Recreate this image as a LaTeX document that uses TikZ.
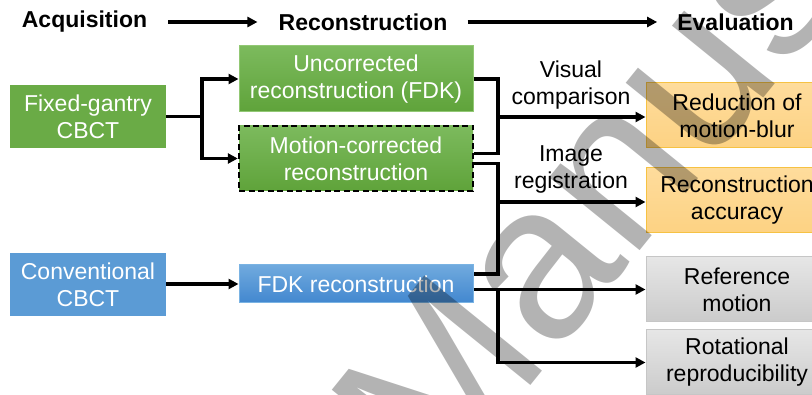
\documentclass[tikz,border=0pt]{standalone}
\usepackage{fontspec}
\setmainfont{Liberation Sans}
\usetikzlibrary{arrows.meta,calc}

\definecolor{fgreen}{HTML}{6AAB46}
\definecolor{gtop}{HTML}{7CBA5D}
\definecolor{gbot}{HTML}{5FA33A}
\definecolor{gedge}{HTML}{92C874}
\definecolor{cblue}{HTML}{5B9BD5}
\definecolor{btop}{HTML}{70AADE}
\definecolor{bbot}{HTML}{4287CF}
\definecolor{bedge}{HTML}{7AB3E3}
\definecolor{otop}{HTML}{FEDC9C}
\definecolor{obot}{HTML}{FDD283}
\definecolor{oedge}{HTML}{F6C243}
\definecolor{ytop}{HTML}{E6E6E6}
\definecolor{ybot}{HTML}{CBCBCB}
\definecolor{yedge}{HTML}{C6C6C6}
\definecolor{wmgray}{HTML}{B3B3B3}

\newcommand\boxfont{\fontsize{23}{27}\selectfont}
\newcommand\headfont{\fontsize{23}{27}\selectfont\bfseries}

\begin{document}
\begin{tikzpicture}[x=1pt,y=-1pt,
  every node/.style={inner sep=0pt, align=center},
  srcbox/.style={minimum width=156pt, minimum height=63pt, text=white, font=\boxfont},
  recbox/.style={minimum width=234pt, text=white, font=\boxfont},
  greenrec/.style={recbox, top color=gtop, bottom color=gbot},
  evalbox/.style={minimum width=182pt, minimum height=65pt, text=black, font=\boxfont},
  orangebox/.style={evalbox, top color=otop, bottom color=obot, draw=oedge, line width=1pt},
  graybox/.style={evalbox, top color=ytop, bottom color=ybot, draw=yedge, line width=1pt},
  head/.style={font=\headfont},
  lbl/.style={font=\boxfont},
  ln/.style={line width=3.2pt, line join=miter},
  arr/.style={ln, -{Triangle[length=10pt,width=10pt]}}]

\useasboundingbox (0,0) rectangle (812,395);
\clip (0,0) rectangle (812,395);

% column headings
\node[head] (hacq) at (84.5,22) {Acquisition};
\node[head] (hrec) at (363,22) {Reconstruction};
\node[head] (heval) at (735.5,22) {Evaluation};
\draw[arr] ([xshift=21pt]hacq.east) -- ([xshift=-21pt]hrec.west);
\draw[arr] ([xshift=20pt]hrec.east) -- ([xshift=-20pt]heval.west);

% acquisition
\node[srcbox, fill=fgreen] (fg) at (88,116.5) {Fixed-gantry\\CBCT};
\node[srcbox, fill=cblue] (cc) at (88,284.5) {Conventional\\CBCT};

% reconstruction
\node[greenrec, minimum height=66pt, draw=gedge, line width=1pt] (uc) at (356,79) {Uncorrected\\reconstruction (FDK)};
\node[greenrec, minimum height=65pt, draw=black, line width=2.4pt,
      dash pattern=on 6pt off 3.5pt] (mc) at (356,158.5) {Motion-corrected\\reconstruction};
\node[recbox, minimum height=38pt, top color=btop, bottom color=bbot,
      draw=bedge, line width=1pt] (fdk) at (356,284) {FDK reconstruction};

% evaluation
\node[orangebox] (rmb) at (737,115.5) {Reduction of\\motion-blur};
\node[orangebox] (rac) at (737,200.5) {Reconstruction\\accuracy};
\node[graybox] (refm) at (737,289.5) {Reference\\motion};
\node[graybox] (rot) at (737,362.5) {Rotational\\reproducibility};

% method labels
\node[lbl] (lvis) at (571,85.5) {Visual\\comparison};
\node[lbl] (lreg) at (571,169) {Image\\registration};

% acquisition -> reconstruction
\coordinate (sx) at (202,0);
\draw[ln] (fg.east) -- (fg.east -| sx);
\draw[arr] (fg.east -| sx) |- (uc.west);
\draw[arr] (fg.east -| sx) |- (mc.west);
\draw[arr] (cc.east |- fdk.west) -- (fdk.west);

% reconstruction -> evaluation
\coordinate (cx) at (498,0);
\coordinate (j1) at (498,117);
\coordinate (j2) at (498,202);
\draw[ln] (uc.east) -- (uc.east -| cx) -- ([yshift=5pt]mc.east -| cx) -- ([yshift=5pt]mc.east);
\draw[arr] (j1) -- (j1 -| rmb.west);
\draw[ln] ([yshift=-5pt]mc.east) -- ([yshift=-5pt]mc.east -| cx)
   -- ([yshift=10pt]fdk.east -| cx) -- ([yshift=10pt]fdk.east);
\draw[arr] (j2) -- (j2 -| rac.west);
\draw[arr] (fdk.east |- refm.west) -- (refm.west);
\draw[arr] (cx |- refm.west) |- (rot.west);

% watermark
\begin{scope}[blend mode=multiply]
\node[rotate=51, anchor=base west, text=wmgray, font=\fontsize{220}{220}\selectfont]
  (wm) at (438,500) {Manuscript};
\end{scope}
\end{tikzpicture}
\end{document}
